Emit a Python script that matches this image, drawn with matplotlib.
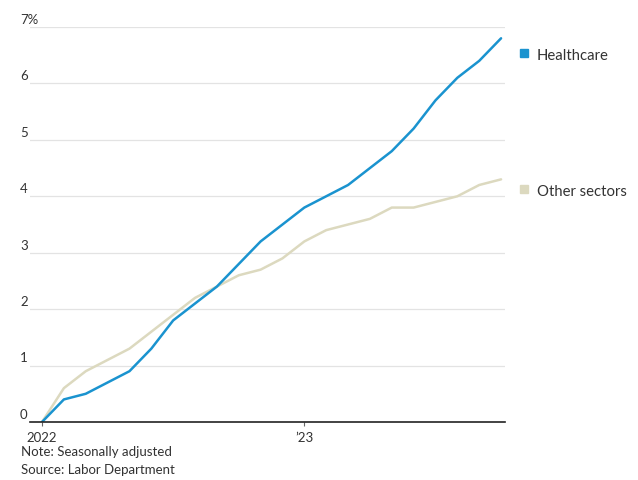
import matplotlib
matplotlib.use("Agg")
import matplotlib.pyplot as plt
import matplotlib.transforms as mtransforms

# monthly change since Jan 2022, percent
months = list(range(22))  # Jan 2022 .. Oct 2023
healthcare = [0.0, 0.4, 0.5, 0.7, 0.9, 1.3, 1.8, 2.1, 2.4, 2.8, 3.2, 3.5,
              3.8, 4.0, 4.2, 4.5, 4.8, 5.2, 5.7, 6.1, 6.4, 6.8]
other = [0.0, 0.6, 0.9, 1.1, 1.3, 1.6, 1.9, 2.2, 2.4, 2.6, 2.7, 2.9,
         3.2, 3.4, 3.5, 3.6, 3.8, 3.8, 3.9, 4.0, 4.2, 4.3]
y_ticks = [0, 1, 2, 3, 4, 5, 6, 7]
y_labels = ["0", "1", "2", "3", "4", "5", "6", "7%"]
x_ticks = [0, 12]
x_labels = ["2022", "\u201923"]

blue = "#1a93cf"
beige = "#dcd9bf"
txt = "#333333"

plt.rcParams["font.family"] = ["Lato", "DejaVu Sans"]

fig = plt.figure(figsize=(6.38, 4.8), dpi=100)
ax = fig.add_axes([30 / 638, 58 / 480, 475 / 638, 395 / 480])

ax.plot(months, other, color=beige, lw=1.8, solid_capstyle="round")
ax.plot(months, healthcare, color=blue, lw=1.8, solid_capstyle="round")

ax.set_xlim(-0.55, 21.18)
ax.set_ylim(0, 7)
for s in ["top", "right", "left"]:
    ax.spines[s].set_visible(False)
ax.spines["bottom"].set_color("#222222")
ax.spines["bottom"].set_linewidth(1.2)

for v in y_ticks[1:]:
    ax.axhline(v, color="#e3e3e3", lw=0.9, zorder=0)

ax.set_yticks([])
trans = mtransforms.blended_transform_factory(fig.transFigure, ax.transData)
for v, lab in zip(y_ticks, y_labels):
    ax.text(20 / 638, v + 0.02, lab, transform=trans, ha="left", va="bottom",
            fontsize=9.5, color=txt)

ax.set_xticks(x_ticks)
ax.set_xticklabels(x_labels, fontsize=9.5, color=txt)
ax.tick_params(axis="x", length=3, width=0.8, color="#666666", pad=4)

# legend at the right end of each line
fig.patches.append(plt.Rectangle((520 / 638, (480 - 57) / 480), 8 / 638, 8 / 480,
                                 transform=fig.transFigure, color=blue))
fig.text(537 / 638, (480 - 56) / 480, "Healthcare", fontsize=10.7, color=txt, va="center")
fig.patches.append(plt.Rectangle((520 / 638, (480 - 193) / 480), 8 / 638, 8 / 480,
                                 transform=fig.transFigure, color=beige))
fig.text(537 / 638, (480 - 192) / 480, "Other sectors", fontsize=10.7, color=txt, va="center")

fig.text(21 / 638, (480 - 452) / 480, "Note: Seasonally adjusted", fontsize=9.5, color=txt, va="center")
fig.text(21 / 638, (480 - 470) / 480, "Source: Labor Department", fontsize=9.5, color=txt, va="center")

fig.savefig("out.png", dpi=100)
